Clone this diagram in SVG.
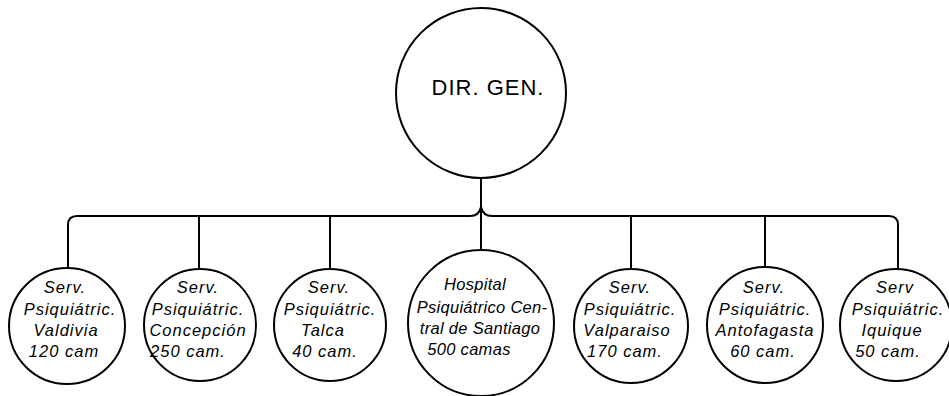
<svg xmlns="http://www.w3.org/2000/svg" width="949" height="396" viewBox="0 0 949 396">
<style>
.c{fill:#fff;stroke:#000;stroke-width:2}
.l{fill:none;stroke:#000;stroke-width:2}
.t{font-family:"Liberation Sans",Arial,sans-serif;font-style:italic;font-size:16.5px;letter-spacing:1px;text-anchor:middle;fill:#000}
.s{letter-spacing:0.3px}
.h{font-family:"Liberation Sans",Arial,sans-serif;font-size:22px;letter-spacing:1px;text-anchor:middle;fill:#000}
</style>
<rect width="949" height="396" fill="#fff"/>
<g id="connectors">
<path class="l" d="M481,178 V208"/>
<path class="l" d="M68,268 V225 Q68,216 77,216 H470 Q479,216 481,207 Q483,216 492,216 H889 Q898,216 898,225 V268"/>
<path class="l" d="M199,216 V269"/>
<path class="l" d="M330,216 V269"/>
<path class="l" d="M481,207 V250"/>
<path class="l" d="M631,216 V269"/>
<path class="l" d="M765,216 V267"/>
</g>
<g id="dirgen">
<circle class="c" cx="481" cy="93" r="85"/>
<text class="h" x="488" y="95">DIR. GEN.</text>
</g>
<g id="valdivia">
<circle class="c" cx="67" cy="326" r="58"/>
<text class="t" x="65" y="293">Serv.</text>
<text class="t" x="70" y="315">Psiquiátric.</text>
<text class="t" x="66" y="336">Valdivia</text>
<text class="t" x="64" y="357">120 cam</text>
</g>
<g id="concepcion">
<circle class="c" cx="200" cy="325" r="56"/>
<text class="t" x="198" y="293">Serv.</text>
<text class="t" x="198" y="315">Psiquiátric.</text>
<text class="t" x="198" y="336">Concepción</text>
<text class="t" x="188" y="357">250 cam.</text>
</g>
<g id="talca">
<circle class="c" cx="330" cy="325" r="56"/>
<text class="t" x="329" y="293">Serv.</text>
<text class="t" x="330" y="315">Psiquiátric.</text>
<text class="t" x="323" y="336">Talca</text>
<text class="t" x="325" y="357">40 cam.</text>
</g>
<g id="santiago">
<circle class="c" cx="481" cy="323" r="73"/>
<text class="t s" x="475" y="290">Hospital</text>
<text class="t s" x="482" y="313">Psiquiátrico Cen-</text>
<text class="t s" x="480" y="334">tral de Santiago</text>
<text class="t s" x="469" y="355">500 camas</text>
</g>
<g id="valparaiso">
<circle class="c" cx="631" cy="326" r="57"/>
<text class="t" x="630" y="293">Serv.</text>
<text class="t" x="630" y="315">Psiquiátric.</text>
<text class="t" x="627" y="336">Valparaiso</text>
<text class="t" x="625" y="357">170 cam.</text>
</g>
<g id="antofagasta">
<circle class="c" cx="765" cy="325" r="58"/>
<text class="t" x="764" y="293">Serv.</text>
<text class="t" x="765" y="315">Psiquiátric.</text>
<text class="t" x="765" y="336">Antofagasta</text>
<text class="t" x="763" y="357">60 cam.</text>
</g>
<g id="iquique">
<circle class="c" cx="896" cy="325" r="56"/>
<text class="t" x="895" y="293">Serv</text>
<text class="t" x="898" y="315">Psiquiátric.</text>
<text class="t" x="892" y="336">Iquique</text>
<text class="t" x="888" y="357">50 cam.</text>
</g>
</svg>
